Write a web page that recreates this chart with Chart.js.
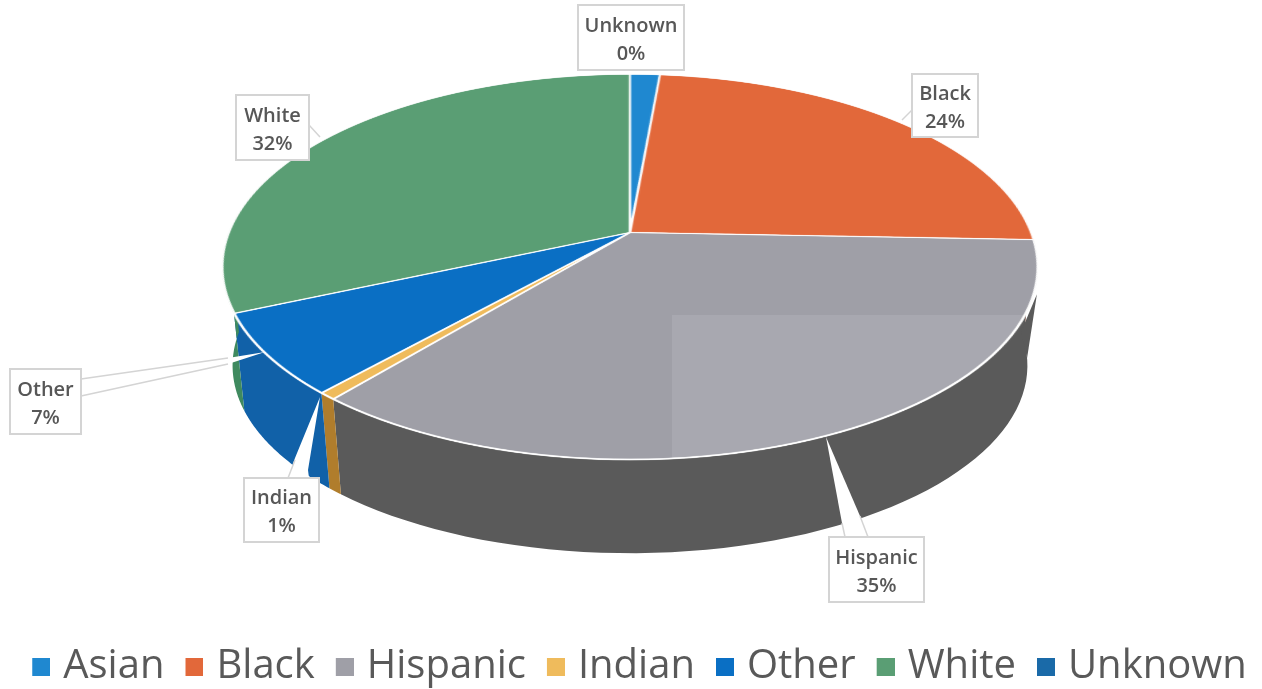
<!DOCTYPE html>
<html>
<head>
<meta charset="utf-8">
<style>
    html, body { margin: 0; padding: 0; background: #fff; }
    #wrap { width: 1262px; height: 689px; }
</style>
<script src="https://cdn.jsdelivr.net/npm/chart.js@4"></script>
</head>
<body>
<div id="wrap"><canvas id="pie" width="1262" height="689"></canvas></div>
<script>
const categories = ["Asian", "Black", "Hispanic", "Indian", "Other", "White", "Unknown"];
// slice shares
const shares = [1.4, 24.2, 35.4, 0.6, 6.8, 31.6, 0];
const topColors = ["#1f88d0", "#e2683a", "#9f9fa7", "#efbb5c", "#0a6fc4", "#5a9e74", "#1a6aa8"];
const wallColors = ["#176aa3", "#b04f2a", "#5a5a5a", "#b07d2c", "#1161a8", "#3f8a5f", "#124f80"];
// callout texts as printed on the chart
const calloutNames = ["Unknown", "Black", "White", "Other", "Indian", "Hispanic"];
const calloutPercents = ["0%", "24%", "32%", "7%", "1%", "35%"];

// perspective of the top face and the bottom face of the disc
const topFace = { cx: 630, y0: 233, a: 401.4, b: 186.3, k: -0.179 };
const bottomFace = { cx: 630, y0: 332, a: 391, b: 181.6, k: -0.179 };

function project(face, angle) {
    const u = Math.cos(angle), v = Math.sin(angle), d = 1 + face.k * v;
    return [face.cx + face.a * u / d, face.y0 + face.b * v / d];
}

// callout outlines: box, white wedge, and the grey bits of the wedge edge
const calloutBoxes = [
    { x: 578, y: 5, w: 106, h: 65, wedge: [[606, 70], [624, 74], [622, 70]], lines: [] },
    { x: 912, y: 74, w: 66, h: 63, wedge: [[912, 110], [902, 120], [912, 127]], lines: [[[912, 110], [902, 120]]] },
    { x: 236, y: 95, w: 73, h: 65, wedge: [[309, 125], [320, 137], [309, 147]], lines: [[[309, 125], [320, 137]]] },
    { x: 10, y: 369, w: 71, h: 65, wedge: [[81, 379], [228, 358], [265, 352], [228, 364], [81, 396]],
      lines: [[[81, 379], [228, 358]], [[81, 396], [228, 364]]] },
    { x: 244, y: 478, w: 75, h: 64, wedge: [[288, 478], [295, 458], [320, 397], [308, 470], [309, 478]],
      lines: [[[288, 478], [295, 460]]] },
    { x: 829, y: 537, w: 95, h: 65, wedge: [[845, 537], [842, 523], [826, 437], [860, 516], [868, 537]],
      lines: [[[845, 537], [842, 523]], [[868, 537], [860, 516]]] }
];

function legendSwatch(color) {
    // box sits at the right side of a wider image, so it ends up nearer the text
    const c = document.createElement("canvas");
    c.width = 32;
    c.height = 18;
    const g = c.getContext("2d");
    g.fillStyle = color;
    g.fillRect(14, 0, 18, 18);
    return c;
}

const discPlugin = {
    id: "disc",
    beforeDatasetDraw(chart, args) {
        const ctx = chart.ctx;
        const arcs = args.meta.data;
        const ss = 3;

        // side wall
        arcs.forEach((arc, i) => {
            const from = Math.max(arc.startAngle, 0);
            const to = Math.min(arc.endAngle, Math.PI);
            if (to <= from) return;
            const steps = 60;
            ctx.beginPath();
            for (let s = 0; s <= steps; s++) {
                const p = project(topFace, from + (to - from) * s / steps);
                s === 0 ? ctx.moveTo(p[0], p[1]) : ctx.lineTo(p[0], p[1]);
            }
            for (let s = steps; s >= 0; s--) {
                const p = project(bottomFace, from + (to - from) * s / steps);
                ctx.lineTo(p[0], p[1]);
            }
            ctx.closePath();
            ctx.fillStyle = wallColors[i];
            ctx.fill();
        });

        // right hand silhouette of the wall, a bit wider than the rims give
        const sTop = project(topFace, 0.3), sBottom = project(bottomFace, 0.14), sBase = project(bottomFace, 0);
        ctx.beginPath();
        ctx.moveTo(sTop[0] + 2, sTop[1] + 3);
        ctx.lineTo(sBottom[0], sBottom[1]);
        ctx.lineTo(sBase[0], sBase[1]);
        ctx.closePath();
        ctx.fillStyle = wallColors[2];
        ctx.fill();

        // the flat pie goes to a spare canvas, then row by row into perspective
        const off = document.createElement("canvas");
        off.width = chart.width * ss;
        off.height = chart.height * ss;
        const offCtx = off.getContext("2d");
        offCtx.scale(ss, ss);
        arcs.forEach(arc => arc.draw(offCtx));

        const first = arcs[0];
        const R = first.outerRadius;
        const f = topFace;
        ctx.imageSmoothingEnabled = true;
        ctx.imageSmoothingQuality = "high";
        for (let y = 70; y < 465; y++) {
            const t = (y + 0.5 - f.y0) / f.b;
            const v = t / (1 - f.k * t);
            const t2 = (y + 1.5 - f.y0) / f.b;
            const v2 = t2 / (1 - f.k * t2);
            if (v2 < -1.02 || v > 1.02) continue;
            const sx = f.a / R / (1 + f.k * v);
            const srcY = (first.y + v * R) * ss;
            const srcH = Math.max((v2 - v) * R * ss, 1);
            ctx.drawImage(off, 0, srcY, off.width, srcH,
                f.cx - first.x * sx, y, chart.width * sx, 1);
        }

        // scan left the lower right of the Hispanic slice a little lighter
        const his = arcs[2];
        ctx.save();
        ctx.beginPath();
        ctx.moveTo(f.cx, f.y0);
        for (let s = 0; s <= 80; s++) {
            const p = project(f, his.startAngle + (his.endAngle - his.startAngle) * s / 80);
            ctx.lineTo(p[0], p[1]);
        }
        ctx.closePath();
        ctx.clip();
        ctx.fillStyle = "rgba(255,255,255,0.1)";
        ctx.fillRect(672, 315, 400, 160);
        ctx.restore();

        // callouts
        ctx.save();
        calloutBoxes.forEach((b, i) => {
            ctx.beginPath();
            ctx.moveTo(b.wedge[0][0], b.wedge[0][1]);
            b.wedge.forEach(p => ctx.lineTo(p[0], p[1]));
            ctx.closePath();
            ctx.fillStyle = "#fff";
            ctx.fill();
            ctx.strokeStyle = "#d4d4d4";
            ctx.lineWidth = 1.5;
            b.lines.forEach(l => {
                ctx.beginPath();
                ctx.moveTo(l[0][0], l[0][1]);
                ctx.lineTo(l[1][0], l[1][1]);
                ctx.stroke();
            });
            ctx.fillStyle = "#fff";
            ctx.fillRect(b.x, b.y, b.w, b.h);
            ctx.lineWidth = 2;
            ctx.strokeRect(b.x, b.y, b.w, b.h);
            ctx.fillStyle = "#575757";
            ctx.font = "600 20px 'Open Sans'";
            ctx.textAlign = "center";
            ctx.textBaseline = "middle";
            const mid = b.x + b.w / 2;
            ctx.fillText(calloutNames[i], mid, b.y + b.h * 0.32);
            ctx.fillText(calloutPercents[i], mid, b.y + b.h * 0.76);
        });
        ctx.restore();
        return false;
    }
};

new Chart(document.getElementById("pie"), {
    type: "pie",
    data: {
        labels: categories,
        datasets: [{
            data: shares,
            backgroundColor: topColors,
            borderColor: "#ffffff",
            borderWidth: 2
        }]
    },
    options: {
        responsive: false,
        devicePixelRatio: 1,
        animation: false,
        layout: { padding: { bottom: -8, left: 10 } },
        plugins: {
            tooltip: { enabled: false },
            legend: {
                position: "bottom",
                labels: {
                    font: { family: "'Open Sans'", size: 40 },
                    color: "#595959",
                    usePointStyle: true,
                    pointStyleWidth: 18,
                    padding: 14,
                    generateLabels(chart) {
                        return categories.map((name, i) => ({
                            text: name,
                            fontColor: "#595959",
                            pointStyle: legendSwatch(topColors[i]),
                            index: i,
                            hidden: false
                        }));
                    }
                }
            }
        }
    },
    plugins: [discPlugin]
});
</script>
</body>
</html>
